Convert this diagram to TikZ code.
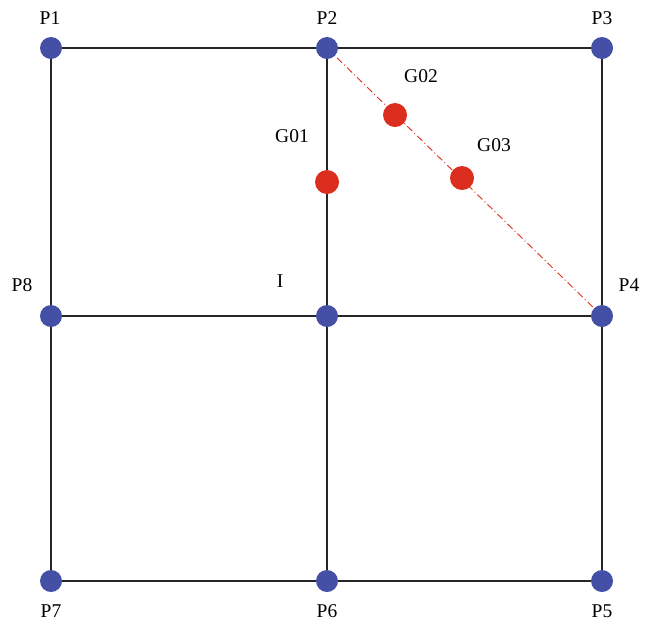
\documentclass[tikz,border=0pt]{standalone}
\usepackage{fontspec}
\setmainfont{Liberation Serif}
\definecolor{pblue}{HTML}{4350A6}
\definecolor{gred}{HTML}{DC2E1E}
\begin{document}
\begin{tikzpicture}[x=1pt,y=-1pt,
  pt/.style={circle,fill=pblue,inner sep=0pt,minimum size=22pt},
  gp/.style={circle,fill=gred,inner sep=0pt,minimum size=24pt},
  lab/.style={font=\fontsize{19.5}{23}\selectfont,inner sep=0pt},
  edge/.style={line width=1.1pt,draw=black!85}]
\useasboundingbox (0,0) rectangle (653,625);
\coordinate (P1) at (51,48);
\coordinate (P2) at (327,48);
\coordinate (P3) at (602,48);
\coordinate (P8) at (51,316);
\coordinate (I) at (327,316);
\coordinate (P4) at (602,316);
\coordinate (P7) at (51,581);
\coordinate (P6) at (327,581);
\coordinate (P5) at (602,581);
\draw[edge] (P1) -- (P2) -- (P3) -- (P4) -- (P5) -- (P6) -- (P7) -- (P8) -- cycle;
\draw[edge] (P8) -- (I) -- (P4);
\draw[edge] (P2) -- (I) -- (P6);
\draw[gred,line width=0.9pt,dash pattern=on 7pt off 3pt on 1pt off 3pt] (P2) -- (P4);
\foreach \n in {P1,P2,P3,P4,P5,P6,P7,P8,I}{\node[pt] (n\n) at (\n) {};}
\node[gp] (G01) at (327,182) {};
\node[gp] (G02) at (395,115) {};
\node[gp] (G03) at (462,178) {};
\node[lab] at (50,18) {P1};
\node[lab] at (327,18) {P2};
\node[lab] at (602,18) {P3};
\node[lab] at (22,285) {P8};
\node[lab] at (629,285) {P4};
\node[lab] at (280,281) {I};
\node[lab] at (292,136) {G01};
\node[lab] at (421,76) {G02};
\node[lab] at (494,145) {G03};
\node[lab] at (51,611) {P7};
\node[lab] at (327,611) {P6};
\node[lab] at (602,611) {P5};
\end{tikzpicture}
\end{document}
